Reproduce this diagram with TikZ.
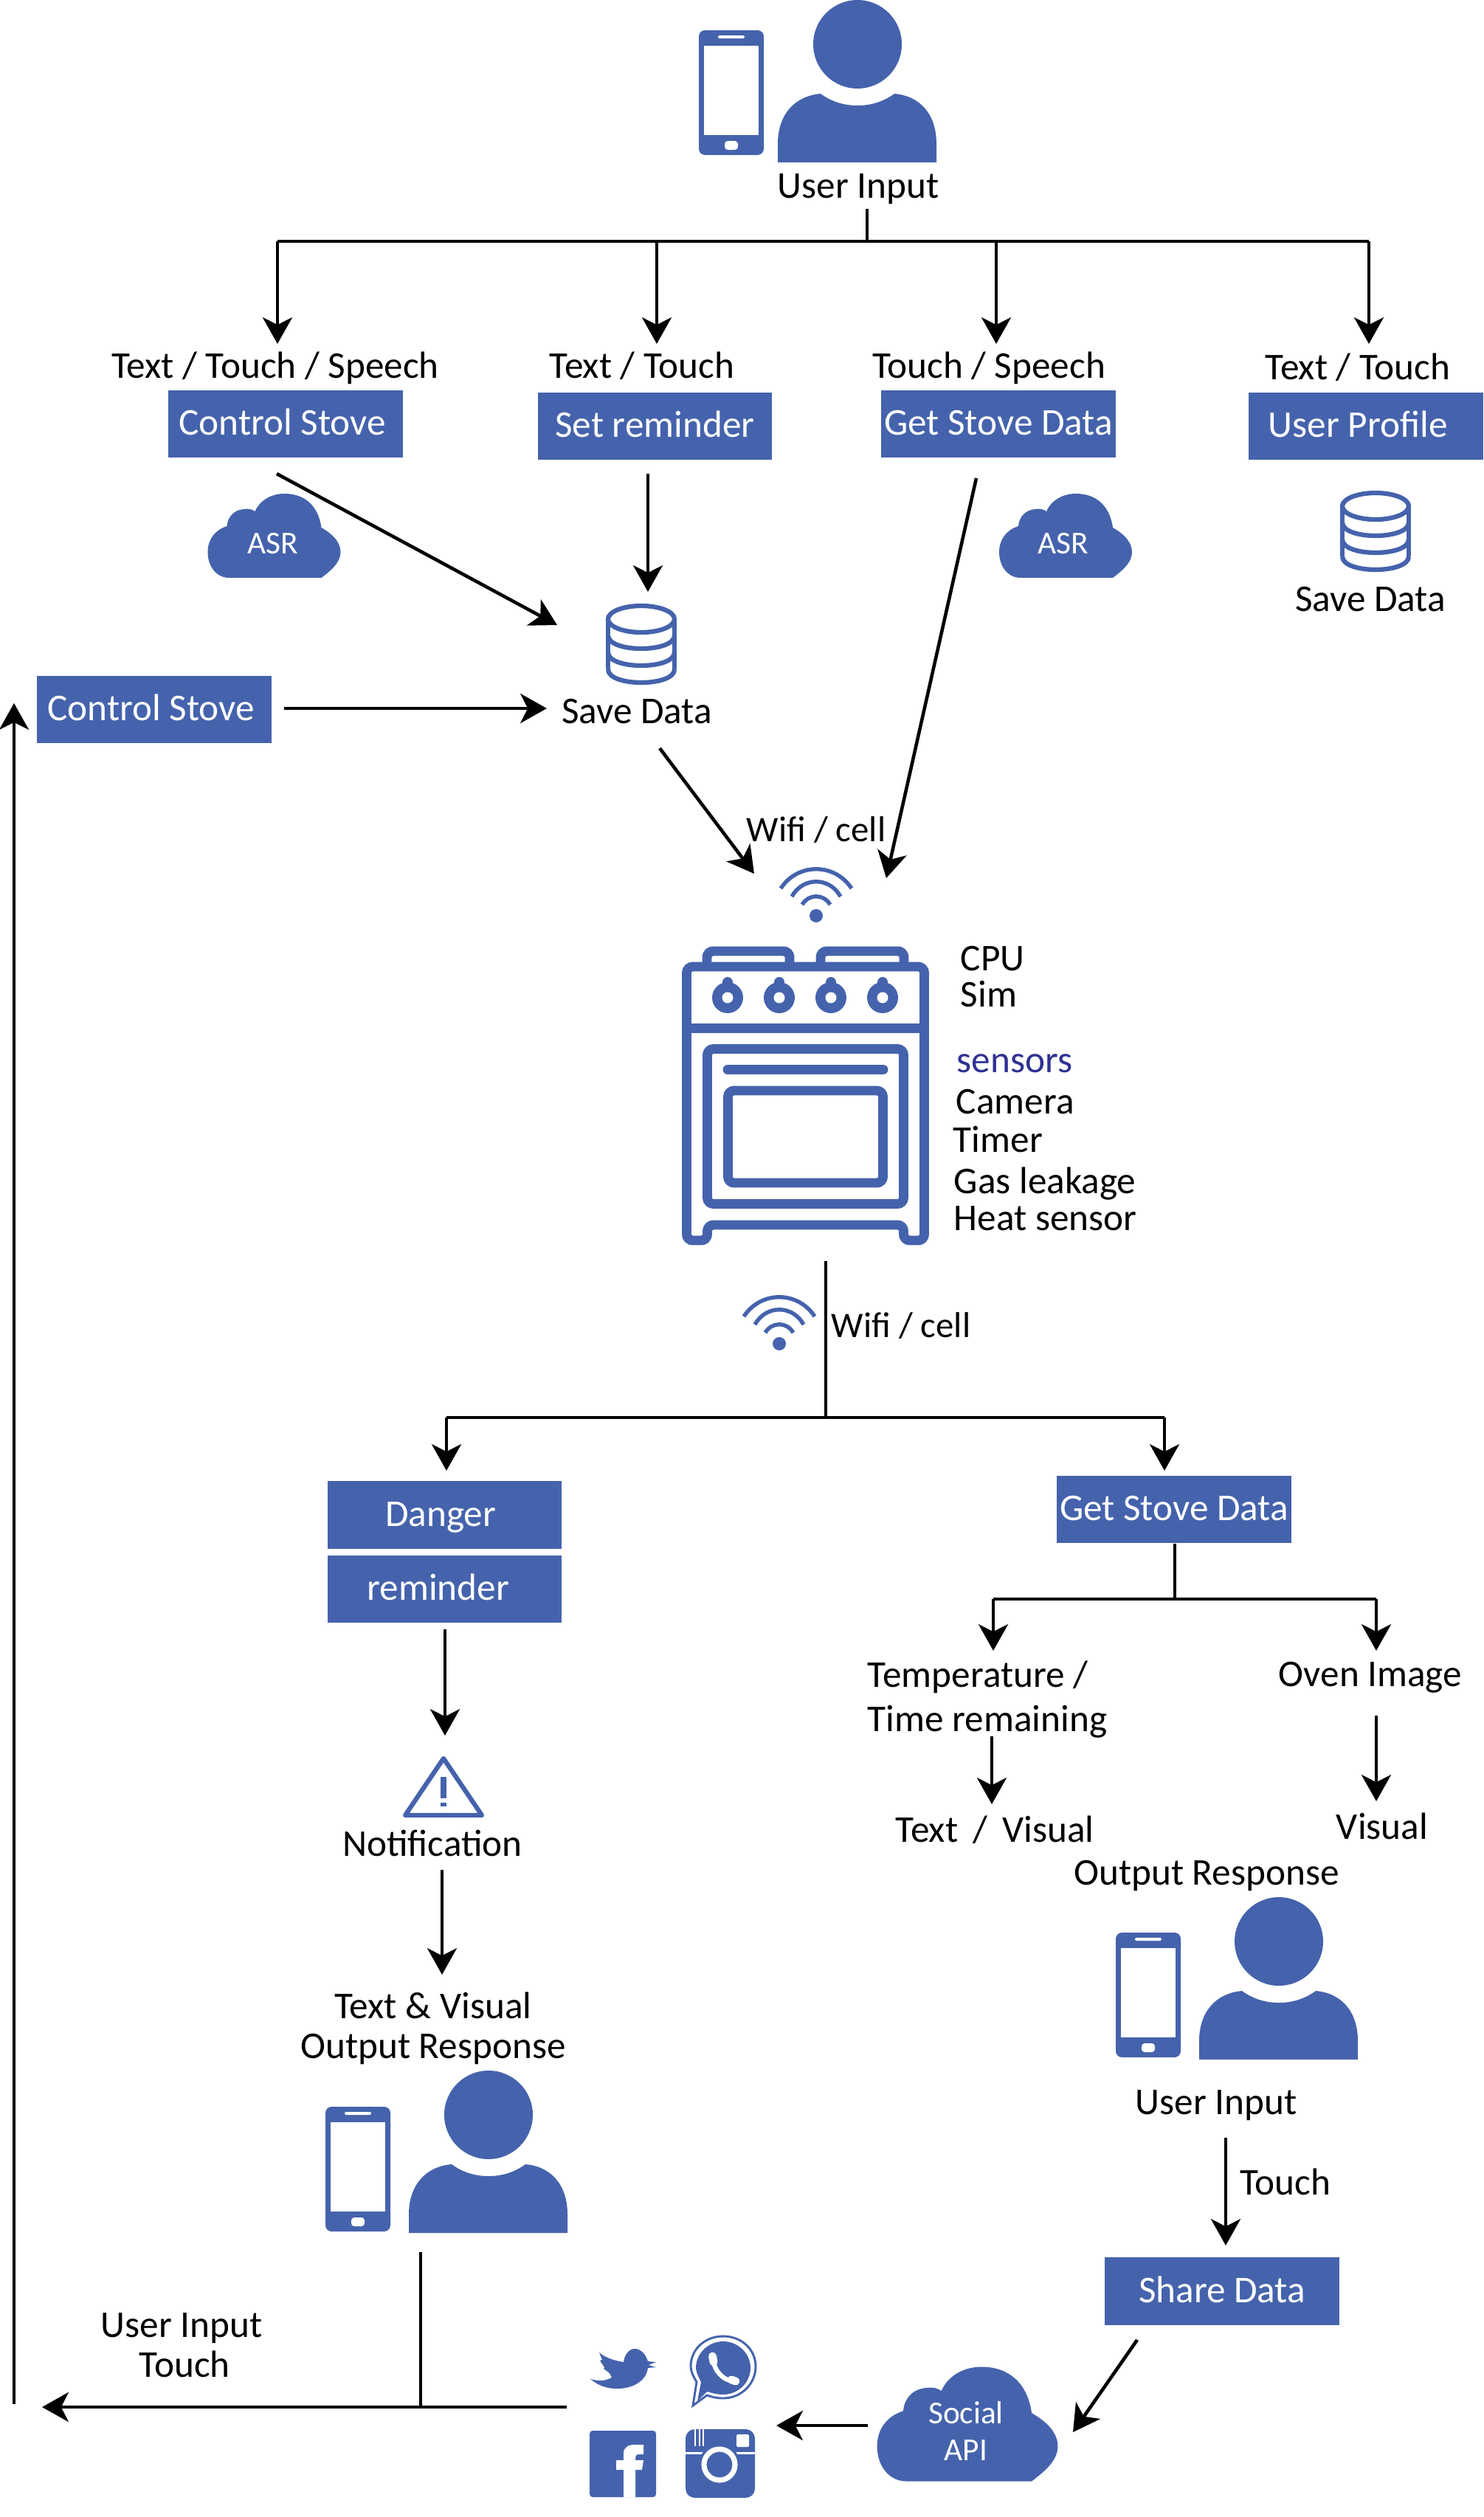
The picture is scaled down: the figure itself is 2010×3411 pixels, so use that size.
\documentclass[tikz,border=0pt]{standalone}
\usepackage{fontspec}
\setmainfont{Carlito}
\usetikzlibrary{arrows.meta}
\definecolor{sblue}{RGB}{69, 99, 172}
\definecolor{sink}{RGB}{46, 49, 146}
\tikzset{
  bluebox/.style = {fill=sblue, text=white, minimum width=76.3pt, minimum height=22pt, inner sep=0, text height=9pt, text depth=1.8pt, font=\fontsize{12.3}{14.6}\selectfont},
  lbl/.style = {anchor=base, inner sep=0, font=\fontsize{12.3}{14.6}\selectfont},
  lblblock/.style = {inner sep=0, font=\fontsize{12.3}{13}\selectfont, align=center},
  cloudlbl/.style = {inner sep=0, text=white, align=center, font=\fontsize{10.4}{12}\selectfont},
  conn/.style = {-{Stealth[length=8.6pt, width=9.6pt, inset=2.4pt]}, line width=1.1pt},
  plain/.style = {line width=1.1pt},
  useric/.pic = {
    \fill [sblue] (0, 0) circle (60);
    \fill [sblue] (-108, 160) -- (-108, 135) .. controls (-108, 95) and (-85, 70) .. (-50, 67)
      .. controls (-35, 78) and (-18, 83) .. (0, 83) .. controls (18, 83) and (35, 78) .. (50, 67)
      .. controls (85, 70) and (107, 95) .. (107, 135) -- (107, 160) -- cycle;
  },
  phoneic/.pic = {
    \fill [sblue, rounded corners=2pt] (-215, -19) rectangle (-127, 150);
    \fill [white] (-208, 2) rectangle (-134, 123);
    \fill [white, rounded corners=0.4pt] (-189, -12) rectangle (-153, -8);
    \fill [white, rounded corners=1pt] (-180, 131) rectangle (-162, 143);
  },
  wifiic/.pic = {
    \fill [sblue] (0, 0) circle (9);
    \draw [sblue, line width=1.3pt] (-48, -37) .. controls (-25, -72) and (25, -72) .. (48, -37);
    \draw [sblue, line width=1.3pt] (-33, -26) .. controls (-18, -53) and (18, -53) .. (33, -26);
    \draw [sblue, line width=1.3pt] (-19, -15) .. controls (-10, -30) and (10, -30) .. (19, -15);
  },
  dbic/.pic = {
    \draw [sblue, line width=1.5pt] (0, 0) ellipse (45 and 18);
    \draw [sblue, line width=1.5pt] (-45, 0) -- (-45, 68) (45, 0) -- (45, 68);
    \foreach \y in {22, 45, 68} {
      \draw [sblue, line width=1.5pt] (-45, \y) .. controls (-45, \y + 24) and (45, \y + 24) .. (45, \y);
    }
  },
  cloudic/.pic = {
    \fill [sblue] (-61, 57) -- (64, 57) .. controls (80, 45) and (90, 35) .. (90, 22)
      .. controls (90, 8) and (78, -3) .. (64, -11) .. controls (60, -40) and (42, -57) .. (14, -57)
      .. controls (-5, -57) and (-20, -47) .. (-26, -33) .. controls (-30, -36) and (-35, -37) .. (-41, -36)
      .. controls (-55, -35) and (-63, -25) .. (-64, -13) .. controls (-80, -8) and (-90, 5) .. (-90, 22)
      .. controls (-90, 42) and (-78, 57) .. (-61, 57) -- cycle;
  }
}
\begin{document}
\begin{tikzpicture}[x=0.24pt, y=-0.24pt]
  \useasboundingbox (0, 0) rectangle (2010, 3411);

  % people
  \pic at (1162, 60) {useric};
  \pic at (1162, 60) {phoneic};
  \pic at (1733, 2631) {useric};
  \pic at (1727, 2638) {phoneic};
  \pic at (662, 2866) {useric};
  \pic at (656, 2874) {phoneic};

  % boxes
  \node [bluebox] (ctrl) at (387, 574.5) {Control Stove\kern 2.1pt};
  \node [bluebox] (setrem) at (887.5, 577.5) {Set reminder};
  \node [bluebox] (getdata) at (1353, 574.5) {Get Stove Data};
  \node [bluebox] (profile) at (1851, 577.5) {User Profile\kern 5.2pt};
  \node [bluebox] (ctrlleft) at (209, 961.5) {Control Stove\kern 2.1pt};
  \node [bluebox] (danger) at (602.5, 2053) {Danger\kern 2.6pt};
  \node [bluebox] (remind) at (602.5, 2153.5) {reminder\kern 4.2pt};
  \node [bluebox] (getdatalow) at (1591, 2045.5) {Get Stove Data};
  \node [bluebox] (share) at (1656, 3105) {Share Data};

  % labels
  \node [lbl] (userin) at (1163, 268) {User Input};
  \node [lbl] (l1) at (373, 512) {Text / Touch / Speech};
  \node [lbl] (l2) at (870, 512) {Text / Touch};
  \node [lbl] (l3) at (1340, 512) {Touch / Speech};
  \node [lbl] (l4) at (1840, 514) {Text / Touch};
  \node [lbl] (save1) at (1857, 828) {Save Data};
  \node [lbl] (save2) at (863, 980) {Save Data};
  \node [lbl, font=\fontsize{11.7}{14}\selectfont] (wifi1) at (1106, 1140) {Wifi / cell};
  \node [lbl, font=\fontsize{11.7}{14}\selectfont] (wifi2) at (1221, 1812) {Wifi / cell};
  \node [lbl, anchor=base west] (cpu) at (1301, 1315) {CPU};
  \node [lbl, anchor=base west] (sim) at (1301, 1364) {Sim};
  \node [lbl, anchor=base west, text=sink] (sens) at (1296, 1453) {sensors};
  \node [lbl, anchor=base west] (cam) at (1295, 1509) {Camera};
  \node [lbl, anchor=base west] (timer) at (1291, 1561) {Timer};
  \node [lbl, anchor=base west] (gas) at (1292, 1617) {Gas leakage};
  \node [lbl, anchor=base west] (heat) at (1292, 1667) {Heat sensor};
  \node [lblblock, anchor=west, align=left, font=\fontsize{12.3}{14.6}\selectfont] (temp) at (1175, 2303) {Temperature /\\Time remaining};
  \node [lbl] (ovenimg) at (1857, 2285) {Oven Image};
  \node [lbl] (txtvis) at (1348, 2496) {Text \,/\, Visual};
  \node [lbl] (visual) at (1873, 2492) {Visual};
  \node [lbl] (outresp) at (1635, 2554) {Output Response};
  \node [lbl] (userin2) at (1648, 2865) {User Input};
  \node [lbl] (touch) at (1742, 2974) {Touch};
  \node [lbl] (notif) at (586, 2515) {Notification};
  \node [lblblock] (txtvis2) at (587, 2749) {Text \& Visual\\Output Response};
  \node [lblblock] (userin3) at (246, 3178) {User Input\\\kern 2pt Touch};

  % clouds
  \pic at (371.5, 726) {cloudic};
  \pic at (1444, 726) {cloudic};
  \pic [scale=1.36] at (1311, 3285) {cloudic};
  \node [cloudlbl] (asr1) at (370, 737) {ASR};
  \node [cloudlbl] (asr2) at (1441, 737) {ASR};
  \node [cloudlbl] (social) at (1309, 3294) {Social\\API};

  % database and wifi
  \pic at (869, 839) {dbic};
  \pic at (1864, 686) {dbic};
  \pic at (1106, 1241) {wifiic};
  \pic at (1056, 1821) {wifiic};

  % stove
  \begin{scope}[sblue, line width=3.1pt, rounded corners=2pt]
    \draw (930.5, 1310) -- (1252.5, 1310) -- (1252.5, 1681) -- (1224.5, 1681) -- (1224.5, 1660)
      -- (958.5, 1660) -- (958.5, 1681) -- (930.5, 1681) -- cycle;
    \draw (958, 1310) -- (958, 1289) -- (1070, 1289) -- (1070, 1310);
    \draw (1112, 1310) -- (1112, 1289) -- (1225, 1289) -- (1225, 1310);
    \draw (930.5, 1393.5) -- (1252.5, 1393.5);
    \draw (958.5, 1421.5) rectangle (1224.5, 1631.5);
    \draw (986.5, 1478) rectangle (1196.5, 1603);
    \draw [line cap=round] (986, 1449.5) -- (1197, 1449.5);
  \end{scope}
  \foreach \x in {986, 1056, 1126, 1196} {
    \fill [sblue] (\x, 1352) circle (21);
    \fill [sblue] (\x, 1331) circle (7);
    \fill [white] (\x, 1352) circle (7.5);
  }

  % warning sign
  \draw [sblue, line width=1.5pt, line join=round] (601, 2383) -- (653, 2460) -- (549, 2460) -- cycle;
  \fill [sblue] (597, 2408) rectangle (605, 2437);
  \fill [sblue] (597, 2443) rectangle (605, 2448);

  % social icons
  \fill [sblue] (800, 3224) .. controls (812, 3234) and (824, 3237) .. (836, 3237)
    .. controls (860, 3237) and (876, 3225) .. (878, 3209) -- (889, 3208) -- (879, 3205) -- (889, 3201) -- (878, 3200)
    .. controls (875, 3190) and (868, 3183) .. (860, 3183) .. controls (852, 3183) and (846, 3192) .. (845, 3201)
    .. controls (832, 3199) and (820, 3195) .. (812, 3188) -- (816, 3198) -- (813, 3199) -- (819, 3208) -- (818, 3210)
    -- (826, 3216) -- (829, 3222) .. controls (820, 3227) and (810, 3227) .. (800, 3224) -- cycle;
  \draw [sblue, line width=0.7pt] (939, 3260) -- (944, 3228) .. controls (938, 3218) and (936, 3212) .. (936, 3207)
    .. controls (936, 3183) and (956, 3166) .. (980, 3166) .. controls (1004, 3166) and (1024, 3183) .. (1024, 3207)
    .. controls (1024, 3231) and (1004, 3250) .. (980, 3250) .. controls (970, 3250) and (964, 3248) .. (958, 3246) -- cycle;
  \fill [sblue] (945, 3254) -- (950, 3228) .. controls (946, 3220) and (943, 3214) .. (943, 3209)
    .. controls (943, 3189) and (960, 3173) .. (980, 3173) .. controls (1000, 3173) and (1017, 3189) .. (1017, 3209)
    .. controls (1017, 3229) and (1000, 3245) .. (980, 3245) .. controls (972, 3245) and (965, 3243) .. (958, 3241) -- cycle;
  \draw [white, line width=1.5pt] (967, 3198) .. controls (967, 3212) and (980, 3226) .. (994, 3227);
  \draw [white, line width=2.6pt, line cap=round] (965.5, 3193) -- (967, 3201) (991, 3225) -- (997, 3227);
  \fill [sblue, rounded corners=1pt] (799, 3294) rectangle (889, 3384);
  \fill [white] (845, 3384) -- (845, 3347) -- (835, 3347) -- (835, 3334) -- (845, 3334) -- (845, 3325)
    .. controls (845, 3316) and (852, 3313) .. (860, 3313) -- (872, 3313) -- (872, 3326) -- (866, 3326)
    .. controls (862, 3326) and (861, 3328) .. (861, 3331) -- (861, 3334) -- (872, 3334) -- (870, 3347)
    -- (861, 3347) -- (861, 3384) -- cycle;
  \fill [sblue, rounded corners=3pt] (929, 3292) rectangle (1023, 3385);
  \draw [white, line width=0.7pt] (929, 3324) -- (1023, 3324);
  \foreach \x in {942, 948, 953} {
    \draw [white, line width=0.5pt] (\x, 3292) -- (\x, 3315);
  }
  \fill [white, rounded corners=0.5pt] (998, 3299) rectangle (1015, 3316);
  \fill [sblue] (975, 3340) circle (28);
  \draw [white, line width=1.7pt] (975, 3340) circle (21);

  % connector ends
  \foreach \n/\x/\y in {top/1175/283, topj/1175/327, a/376/327, ae/376/466, b/890/327, be/890/466,
      c/1350/327, ce/1350/466, d/1855/327, de/1855/466, ctrls/375/642, ctrle/755/847,
      sets/878/642, sete/878/802, lefts/385/960, lefte/741/960, saves/894/1014, savee/1022/1184,
      gets/1323/648, gete/1201/1190, ovens/1119/1709, ovenj/1119/1921, e/605/1921, ee/605/1993,
      f/1578/1921, fe/1578/1993, lows/1592/2092, lowj/1592/2167, g/1346/2167, ge/1346/2237,
      h/1865/2167, he/1865/2237, temps/1344/2353, tempe/1344/2445, imgs/1865/2325, imge/1865/2441,
      rems/603/2208, reme/603/2352, nots/599/2534, note/599/2676, pers/570/3052, perj/570/3262,
      apis/768/3262, leftend/57/3262, ups/19/3258, upe/19/953, inpts/1661/2897, inpte/1661/3043,
      shars/1541/3171, share/1454/3296, socs/1176/3287, soce/1052/3287} {
    \coordinate (\n) at (\x, \y);
  }

  % connectors
  \draw [plain] (top) -- (topj);
  \draw [plain] (a) -- (d);
  \draw [conn] (a) -- (ae);
  \draw [conn] (b) -- (be);
  \draw [conn] (c) -- (ce);
  \draw [conn] (d) -- (de);
  \draw [conn] (ctrls) -- (ctrle);
  \draw [conn] (sets) -- (sete);
  \draw [conn] (lefts) -- (lefte);
  \draw [conn] (saves) -- (savee);
  \draw [conn] (gets) -- (gete);
  \draw [plain] (ovens) -- (ovenj);
  \draw [plain] (e) -- (f);
  \draw [conn] (e) -- (ee);
  \draw [conn] (f) -- (fe);
  \draw [plain] (lows) -- (lowj);
  \draw [plain] (g) -- (h);
  \draw [conn] (g) -- (ge);
  \draw [conn] (h) -- (he);
  \draw [conn] (temps) -- (tempe);
  \draw [conn] (imgs) -- (imge);
  \draw [conn] (rems) -- (reme);
  \draw [conn] (nots) -- (note);
  \draw [plain] (pers) -- (perj);
  \draw [conn] (apis) -- (leftend);
  \draw [conn] (ups) -- (upe);
  \draw [conn] (inpts) -- (inpte);
  \draw [conn] (shars) -- (share);
  \draw [conn] (socs) -- (soce);
\end{tikzpicture}
\end{document}
